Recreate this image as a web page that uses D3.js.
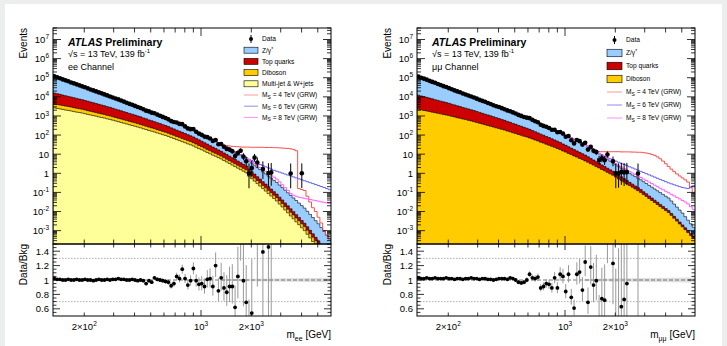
<!DOCTYPE html>
<html>
<head>
<meta charset="utf-8">
<script src="https://cdn.jsdelivr.net/npm/d3@7"></script>
<style>
  body { margin: 0; background: #eceeee; }
  svg { display: block; font-family: "Liberation Sans", Arial, sans-serif; }
</style>
</head>
<body>
<svg id="chart" width="727" height="346"></svg>
<script>
// binning: log-uniform bins in dilepton mass [GeV]
const massMin = 130, massMax = 6000, nBins = 100;
const binEdges = d3.range(nBins + 1).map(i => massMin * Math.pow(massMax / massMin, i / nBins));

// --- ee channel, log10(events per bin) ---
const eeDYLog = [5.01,4.95,4.90,4.84,4.79,4.73,4.67,4.62,4.56,4.51,
  4.45,4.40,4.34,4.28,4.23,4.17,4.11,4.06,4.00,3.94,
  3.88,3.82,3.77,3.71,3.65,3.59,3.53,3.47,3.41,3.35,
  3.29,3.23,3.17,3.11,3.05,2.99,2.92,2.86,2.80,2.74,
  2.68,2.61,2.54,2.47,2.40,2.34,2.27,2.20,2.13,2.06,
  1.99,1.92,1.85,1.78,1.71,1.64,1.56,1.49,1.42,1.35,
  1.28,1.20,1.12,1.05,0.97,0.89,0.81,0.73,0.66,0.58,
  0.45,0.35,0.24,0.14,0.03,-0.08,-0.18,-0.29,-0.39,-0.50,
  -0.60,-0.73,-0.86,-0.99,-1.12,-1.25,-1.38,-1.51,-1.64,-1.77,
  -1.90,-2.06,-2.22,-2.38,-2.54,-2.70,-2.90,-3.10,-3.30,-3.50];
const eeTopLog = [4.06,4.03,3.99,3.95,3.91,3.87,3.84,3.80,3.76,3.72,
  3.69,3.64,3.60,3.56,3.52,3.47,3.43,3.39,3.35,3.30,
  3.26,3.21,3.16,3.12,3.07,3.02,2.97,2.92,2.88,2.83,
  2.78,2.73,2.67,2.62,2.56,2.51,2.46,2.40,2.35,2.29,
  2.24,2.18,2.11,2.05,1.98,1.92,1.86,1.79,1.73,1.66,
  1.60,1.52,1.44,1.36,1.28,1.20,1.11,1.03,0.95,0.87,
  0.79,0.70,0.61,0.51,0.42,0.33,0.24,0.15,0.05,-0.04,
  -0.20,-0.34,-0.47,-0.61,-0.74,-0.88,-1.01,-1.15,-1.28,-1.42,
  -1.55,-1.71,-1.86,-2.02,-2.17,-2.33,-2.48,-2.64,-2.79,-2.95,
  -3.10,-3.28,-3.46,-3.64,-3.82,-4.00,-4.18,-4.36,-4.54,-4.72];
const eeDibosonLog = [3.21,3.18,3.15,3.12,3.10,3.07,3.04,3.01,2.98,2.95,
  2.92,2.88,2.84,2.80,2.76,2.72,2.68,2.65,2.61,2.57,
  2.53,2.49,2.45,2.41,2.37,2.33,2.29,2.25,2.21,2.17,
  2.13,2.08,2.04,1.99,1.94,1.90,1.85,1.80,1.75,1.71,
  1.66,1.61,1.55,1.50,1.44,1.39,1.33,1.28,1.22,1.17,
  1.11,1.04,0.96,0.89,0.81,0.74,0.67,0.59,0.52,0.44,
  0.37,0.29,0.21,0.13,0.05,-0.03,-0.11,-0.19,-0.27,-0.35,
  -0.50,-0.63,-0.75,-0.88,-1.00,-1.13,-1.25,-1.38,-1.50,-1.63,
  -1.75,-1.90,-2.04,-2.19,-2.33,-2.48,-2.62,-2.77,-2.91,-3.06,
  -3.20,-3.38,-3.56,-3.74,-3.92,-4.10,-4.28,-4.46,-4.64,-4.82];
const eeMultijetLog = [3.42,3.39,3.37,3.34,3.31,3.29,3.26,3.23,3.20,3.18,
  3.15,3.12,3.08,3.05,3.02,2.99,2.95,2.92,2.89,2.85,
  2.82,2.78,2.74,2.70,2.66,2.62,2.58,2.54,2.50,2.46,
  2.42,2.38,2.33,2.29,2.24,2.20,2.16,2.11,2.07,2.02,
  1.98,1.93,1.87,1.82,1.76,1.71,1.65,1.60,1.54,1.49,
  1.43,1.36,1.29,1.23,1.16,1.09,1.02,0.95,0.89,0.82,
  0.75,0.67,0.59,0.51,0.43,0.35,0.27,0.19,0.11,0.03,
  -0.15,-0.28,-0.41,-0.54,-0.67,-0.80,-0.93,-1.06,-1.19,-1.32,
  -1.45,-1.61,-1.76,-1.92,-2.07,-2.23,-2.38,-2.54,-2.69,-2.85,
  -3.00,-3.19,-3.38,-3.57,-3.76,-3.95,-4.14,-4.33,-4.52,-4.71];
// signal + background predictions, bins 60..99
const sigFirstBin = 60;
const eeSig4Log = [1.52,1.48,1.45,1.43,1.41,1.40,1.39,1.38,1.37,1.37,
  1.37,1.36,1.36,1.36,1.36,1.36,1.35,1.35,1.35,1.34,
  1.34,1.33,1.32,1.31,1.30,1.28,1.25,1.18,-0.80,-0.85,
  -0.90,-1.20,-1.50,-1.80,-2.00,-2.30,-2.60,-3.00,-3.40,-3.80];
const eeSig6Log = [1.52,1.45,1.38,1.30,1.22,1.14,1.06,0.98,0.90,0.82,
  0.74,0.67,0.60,0.53,0.46,0.40,0.34,0.28,0.22,0.16,
  0.11,0.06,0.01,-0.04,-0.09,-0.14,-0.19,-0.24,-0.29,-0.34,
  -0.39,-0.44,-0.49,-0.54,-0.59,-0.64,-0.69,-0.74,-0.80,-0.86];
const eeSig8Log = [1.52,1.44,1.36,1.28,1.20,1.12,1.04,0.96,0.88,0.80,
  0.70,0.60,0.50,0.40,0.30,0.20,0.10,0.00,-0.10,-0.20,
  -0.30,-0.45,-0.60,-0.75,-0.90,-1.05,-1.15,-1.20,-1.25,-1.28,
  -1.31,-1.34,-1.37,-1.40,-1.43,-1.46,-1.49,-1.52,-1.55,-1.58];
// relative background uncertainty shown in the ratio, bins 60..99
const eeSystRel = [0.012,0.013,0.012,0.014,0.013,0.015,0.014,0.016,0.015,0.017,
  0.016,0.018,0.017,0.019,0.018,0.020,0.019,0.021,0.020,0.022,
  0.021,0.023,0.022,0.024,0.023,0.025,0.024,0.026,0.025,0.027,
  0.026,0.028,0.027,0.029,0.028,0.030,0.029,0.031,0.030,0.032];
// data / total background (null = no events)
const eeRatio = [1.02,1.01,1.01,1.00,1.00,1.01,1.00,1.00,1.01,1.00,
  1.00,1.01,1.00,1.00,0.99,1.00,1.01,1.00,1.00,1.01,
  1.00,1.01,1.01,1.02,1.01,1.01,1.00,1.00,1.01,1.00,
  0.99,1.00,0.99,0.95,0.99,0.97,1.03,1.01,1.00,0.99,
  0.98,0.97,0.92,0.95,1.05,1.02,1.15,1.02,0.93,0.99,
  1.16,0.99,0.94,0.95,0.91,1.01,1.02,0.91,1.20,0.85,
  1.03,0.89,0.83,0.91,0.91,0.62,1.05,1.70,0.99,0.69,
  0.22,0.54,2.5,1.8,null,1.39,null,1.46,2.0,null,
  null,null,null,null,null,14,null,null,null,49,
  null,null,null,null,null,null,null,null,null,null];

// --- mumu channel ---
const mmDYLog = [5.00,4.94,4.89,4.83,4.77,4.71,4.66,4.60,4.54,4.48,
  4.43,4.37,4.31,4.25,4.19,4.14,4.08,4.02,3.96,3.90,
  3.85,3.79,3.73,3.67,3.62,3.56,3.50,3.44,3.38,3.33,
  3.27,3.21,3.15,3.10,3.04,2.99,2.93,2.88,2.82,2.77,
  2.71,2.64,2.57,2.51,2.44,2.37,2.31,2.24,2.17,2.11,
  2.04,1.97,1.90,1.83,1.77,1.70,1.63,1.56,1.49,1.42,
  1.36,1.26,1.16,1.05,0.95,0.85,0.75,0.65,0.55,0.45,
  0.35,0.26,0.17,0.08,-0.01,-0.10,-0.18,-0.26,-0.34,-0.42,
  -0.50,-0.59,-0.68,-0.77,-0.86,-0.95,-1.04,-1.13,-1.22,-1.31,
  -1.40,-1.56,-1.72,-1.88,-2.04,-2.20,-2.40,-2.60,-2.80,-3.00];
const mmTopLog = [4.00,3.96,3.92,3.88,3.84,3.80,3.75,3.71,3.67,3.63,
  3.59,3.55,3.50,3.46,3.41,3.37,3.32,3.28,3.24,3.19,
  3.15,3.10,3.05,3.00,2.95,2.91,2.86,2.81,2.76,2.71,
  2.66,2.61,2.55,2.50,2.44,2.39,2.33,2.28,2.22,2.17,
  2.11,2.04,1.98,1.91,1.84,1.78,1.71,1.65,1.58,1.51,
  1.45,1.37,1.29,1.21,1.13,1.05,0.97,0.89,0.81,0.73,
  0.65,0.55,0.45,0.35,0.26,0.16,0.06,-0.04,-0.14,-0.23,
  -0.33,-0.44,-0.54,-0.65,-0.75,-0.86,-0.97,-1.07,-1.18,-1.28,
  -1.39,-1.52,-1.64,-1.77,-1.89,-2.02,-2.14,-2.27,-2.39,-2.52,
  -2.64,-2.79,-2.94,-3.09,-3.24,-3.40,-3.55,-3.70,-3.85,-4.00];
const mmDibosonLog = [3.35,3.32,3.29,3.26,3.23,3.20,3.17,3.14,3.11,3.08,
  3.05,3.02,2.98,2.95,2.91,2.88,2.84,2.81,2.77,2.74,
  2.70,2.66,2.62,2.58,2.54,2.50,2.46,2.42,2.38,2.34,
  2.30,2.26,2.21,2.17,2.12,2.08,2.03,1.99,1.94,1.90,
  1.85,1.80,1.74,1.69,1.63,1.58,1.52,1.47,1.41,1.36,
  1.30,1.24,1.17,1.11,1.04,0.98,0.91,0.85,0.78,0.72,
  0.65,0.58,0.50,0.43,0.35,0.28,0.20,0.13,0.05,-0.03,
  -0.10,-0.19,-0.28,-0.37,-0.46,-0.55,-0.64,-0.73,-0.82,-0.91,
  -1.00,-1.11,-1.21,-1.32,-1.42,-1.53,-1.63,-1.74,-1.84,-1.95,
  -2.05,-2.20,-2.35,-2.50,-2.65,-2.80,-2.95,-3.10,-3.25,-3.40];
const mmSig4Log = [1.50,1.42,1.34,1.26,1.18,1.14,1.13,1.13,1.13,1.13,
  1.13,1.13,1.13,1.12,1.12,1.12,1.12,1.11,1.11,1.10,
  1.10,1.08,1.06,1.03,0.99,0.94,0.86,0.76,0.64,0.50,
  0.36,0.22,0.09,-0.03,-0.14,-0.24,-0.34,-0.46,-0.75,-1.05];
const mmSig6Log = [1.50,1.41,1.32,1.23,1.14,1.05,0.97,0.89,0.82,0.76,
  0.70,0.64,0.58,0.52,0.46,0.40,0.34,0.28,0.22,0.16,
  0.10,0.04,-0.02,-0.08,-0.14,-0.20,-0.26,-0.32,-0.38,-0.44,
  -0.50,-0.55,-0.60,-0.65,-0.70,-0.74,-0.77,-0.80,-0.72,-0.65];
const mmSig8Log = [1.50,1.41,1.32,1.23,1.14,1.04,0.95,0.86,0.77,0.68,
  0.59,0.50,0.42,0.34,0.26,0.18,0.10,0.02,-0.06,-0.14,
  -0.22,-0.30,-0.38,-0.46,-0.54,-0.62,-0.70,-0.78,-0.86,-0.94,
  -1.02,-1.10,-1.18,-1.26,-1.34,-1.42,-1.50,-1.60,-1.75,-1.90];
const mmSystRel = [0.016,0.017,0.016,0.018,0.017,0.019,0.018,0.020,0.019,0.021,
  0.020,0.022,0.021,0.023,0.022,0.024,0.023,0.025,0.024,0.026,
  0.025,0.027,0.026,0.028,0.027,0.029,0.028,0.030,0.029,0.031,
  0.030,0.032,0.031,0.033,0.032,0.034,0.033,0.035,0.034,0.036];
const mmRatio = [1.03,1.02,1.02,1.03,1.02,1.02,1.03,1.02,1.02,1.02,
  1.03,1.02,1.02,1.01,1.02,1.02,1.01,1.02,1.02,1.03,
  1.02,1.02,1.01,1.02,1.02,1.01,1.01,1.00,1.01,1.02,
  1.02,1.02,1.01,1.03,1.02,1.00,0.97,0.96,0.97,1.00,
  1.08,1.03,1.02,1.04,0.89,0.91,0.95,0.94,0.89,1.03,
  0.89,1.08,1.05,0.84,1.08,0.76,0.61,1.08,1.11,0.86,
  1.25,0.69,1.18,0.93,0.99,0.47,0.74,0.72,1.8,null,
  1.23,0.35,0.44,0.63,0.73,0.95,null,null,null,1.75,
  null,null,null,null,null,null,null,null,null,null,
  null,null,null,null,null,null,null,null,null,null];

const legendBkgEE = ["Z/γ*", "Top quarks", "Diboson", "Multi-jet & W+jets"];
const legendBkgMM = ["Z/γ*", "Top quarks", "Diboson"];
const signalMasses = ["4", "6", "8"];
const xTickLabels = [[200, "2×10", "2"], [1000, "10", "3"], [2000, "2×10", "3"]];

const colors = { dy: "#99ccff", top: "#cc0000", diboson: "#ffcc00", multijet: "#ffff99" };
const sigColors = ["#ff4d4d", "#6363ee", "#ff5cff"];
const legendSigColors = ["#ff9a9a", "#8f8fee", "#ff8cff"];

const svg = d3.select("#chart");
svg.append("rect").attr("x", 5).attr("y", 4).attr("width", 717).attr("height", 342).attr("fill", "#fff");

const W = 278, yTop = 28, yMid = 244, yBot = 316;
const yMain = d3.scaleLog().domain([2e-4, 4e7]).range([yMid, yTop]);
const yRat = d3.scaleLinear().domain([0.5, 1.5]).range([yBot, yMid]);

function supText(sel, base, sup, supSize) {
  sel.text(base);
  sel.append("tspan").attr("dy", -supSize * 0.6).attr("font-size", supSize).text(sup);
}

// Poisson 68% interval (Wilson-Hilferty approximation)
function poissonLow(n) { if (n <= 0) return 0; return n * Math.pow(1 - 1 / (9 * n) - 1 / (3 * Math.sqrt(n)), 3); }
function poissonUp(n) { const m = n + 1; return m * Math.pow(1 - 1 / (9 * m) + 1 / (3 * Math.sqrt(m)), 3); }

function drawPanel(p, id) {
  const x0 = p.x0, x1 = p.x0 + W;
  const x = d3.scaleLog().domain([massMin, massMax]).range([x0, x1]);
  const g = svg.append("g");

  g.append("clipPath").attr("id", "cm" + id).append("rect").attr("x", x0).attr("y", yTop).attr("width", W).attr("height", yMid - yTop);
  g.append("clipPath").attr("id", "cr" + id).append("rect").attr("x", x0).attr("y", yMid).attr("width", W).attr("height", yBot - yMid);

  // stack (bottom layer first in list)
  const comps = p.bkg.map(b => b.log.map(v => Math.pow(10, v)));
  const cum = [];
  let run = new Array(nBins).fill(0);
  comps.forEach(c => { run = run.map((v, i) => v + c[i]); cum.push(run); });
  const total = cum[cum.length - 1];

  const yc = v => Math.min(yMid + 2, yMain(Math.max(v, 1e-9)));
  function stepPath(vals) {
    let d = "M" + x(binEdges[0]) + "," + yc(vals[0]);
    vals.forEach((v, i) => { d += "L" + x(binEdges[i]) + "," + yc(v) + "L" + x(binEdges[i + 1]) + "," + yc(v); });
    return d;
  }
  const main = g.append("g").attr("clip-path", "url(#cm" + id + ")");
  for (let k = cum.length - 1; k >= 0; k--) {
    const d = "M" + x0 + "," + (yMid + 2) + stepPath(cum[k]).replace(/^M/, "L") + "L" + x1 + "," + (yMid + 2) + "Z";
    main.append("path").attr("d", d).attr("fill", p.bkg[k].color).attr("stroke", "#000").attr("stroke-width", 0.6);
  }

  // signal hypotheses (background + signal)
  p.sig.forEach((s, j) => {
    const vals = total.map((t, i) => i < sigFirstBin ? t : Math.max(t, Math.pow(10, s[i - sigFirstBin])));
    main.append("path").attr("d", stepPath(vals)).attr("fill", "none").attr("stroke", sigColors[j]).attr("stroke-width", 1);
  });

  // data
  const pts = [];
  p.ratio.forEach((r, i) => {
    if (r === null) return;
    const n = r * total[i];
    pts.push({ m: Math.sqrt(binEdges[i] * binEdges[i + 1]), n, lo: poissonLow(n), hi: poissonUp(n), b: total[i], r });
  });
  main.selectAll(".eb").data(pts).enter().append("line")
    .attr("x1", d => x(d.m)).attr("x2", d => x(d.m))
    .attr("y1", d => yc(d.lo)).attr("y2", d => yMain(d.hi))
    .attr("stroke", "#000").attr("stroke-width", 1);
  main.selectAll(".dp").data(pts).enter().append("circle")
    .attr("cx", d => x(d.m)).attr("cy", d => yMain(d.n)).attr("r", 2.3).attr("fill", "#000");

  // ratio panel
  const rat = g.append("g").attr("clip-path", "url(#cr" + id + ")");
  p.syst.forEach((u, j) => {
    const i = sigFirstBin + j;
    rat.append("rect").attr("x", x(binEdges[i])).attr("width", x(binEdges[i + 1]) - x(binEdges[i]) + 0.3)
      .attr("y", yRat(1 + u)).attr("height", yRat(1 - u) - yRat(1 + u)).attr("fill", "#dedede");
  });
  [[1.3, "#999", "1.5,1.5"], [0.7, "#999", "1.5,1.5"], [1.0, "#555", "4,2"]].forEach(([v, c, da]) => {
    rat.append("line").attr("x1", x0).attr("x2", x1).attr("y1", yRat(v)).attr("y2", yRat(v))
      .attr("stroke", c).attr("stroke-width", 0.8).attr("stroke-dasharray", da);
  });
  rat.selectAll(".re").data(pts).enter().append("line")
    .attr("x1", d => x(d.m)).attr("x2", d => x(d.m))
    .attr("y1", d => yRat(d.lo / d.b)).attr("y2", d => yRat(d.hi / d.b))
    .attr("stroke", "#999").attr("stroke-width", 1);
  rat.selectAll(".rp").data(pts).enter().append("circle")
    .attr("cx", d => x(d.m)).attr("cy", d => yRat(d.r)).attr("r", 1.9).attr("fill", "#000");

  // frames
  g.append("rect").attr("x", x0).attr("y", yTop).attr("width", W).attr("height", yMid - yTop).attr("fill", "none").attr("stroke", "#000").attr("stroke-width", 1);
  g.append("rect").attr("x", x0).attr("y", yMid).attr("width", W).attr("height", yBot - yMid).attr("fill", "none").attr("stroke", "#000").attr("stroke-width", 1);

  const ax = g.append("g").attr("stroke", "#000").attr("stroke-width", 0.8);
  // y ticks main (log)
  for (let n = -4; n <= 7; n++) for (let k = 1; k <= 9; k++) {
    const v = k * Math.pow(10, n);
    if (v < 2e-4 || v > 4e7) continue;
    const yy = yMain(v), len = k === 1 ? 8 : 4;
    ax.append("line").attr("x1", x0).attr("x2", x0 + len).attr("y1", yy).attr("y2", yy);
    ax.append("line").attr("x1", x1).attr("x2", x1 - len).attr("y1", yy).attr("y2", yy);
    if (k === 1 && n >= -3) {
      const t = g.append("text").attr("x", x0 - 4).attr("y", yy + 3.5).attr("text-anchor", "end").attr("font-size", 9.5);
      if (n === 0) t.text("1"); else if (n === 1) t.text("10"); else supText(t, "10", String(n), 6.5);
    }
  }
  // ratio y ticks
  for (let v = 0.55; v < 1.5; v += 0.05) {
    const major = Math.abs(Math.round(v * 10) - v * 10) < 1e-6 && Math.round(v * 10) % 2 === 0;
    const yy = yRat(v), len = major ? 7 : 3.5;
    ax.append("line").attr("x1", x0).attr("x2", x0 + len).attr("y1", yy).attr("y2", yy);
    ax.append("line").attr("x1", x1).attr("x2", x1 - len).attr("y1", yy).attr("y2", yy);
    if (major) g.append("text").attr("x", x0 - 4).attr("y", yy + 3.5).attr("text-anchor", "end").attr("font-size", 9.5)
      .text(d3.format("~g")(+v.toFixed(1)));
  }
  // x ticks
  for (let n = 2; n <= 3; n++) for (let k = 1; k <= 9; k++) {
    const v = k * Math.pow(10, n);
    if (v <= massMin || v >= massMax) continue;
    const xx = x(v), major = k === 1;
    const lm = major ? 8 : 4.5, lr = major ? 6 : 3.5;
    ax.append("line").attr("x1", xx).attr("x2", xx).attr("y1", yTop).attr("y2", yTop + lm);
    ax.append("line").attr("x1", xx).attr("x2", xx).attr("y1", yMid).attr("y2", yMid - lm);
    ax.append("line").attr("x1", xx).attr("x2", xx).attr("y1", yMid).attr("y2", yMid + lr);
    ax.append("line").attr("x1", xx).attr("x2", xx).attr("y1", yBot).attr("y2", yBot - lr);
  }
  xTickLabels.forEach(([v, base, sup]) => {
    const t = g.append("text").attr("x", x(v)).attr("y", 330).attr("text-anchor", "middle").attr("font-size", 9.5);
    supText(t, base, sup, 6.5);
  });

  // axis titles
  g.append("text").attr("transform", `translate(${x0 - 26},${yTop}) rotate(-90)`).attr("text-anchor", "end").attr("font-size", 10).text("Events");
  g.append("text").attr("transform", `translate(${x0 - 26},${yMid}) rotate(-90)`).attr("text-anchor", "end").attr("font-size", 10).text("Data/Bkg");
  const xt = g.append("text").attr("x", x1).attr("y", 338).attr("text-anchor", "end").attr("font-size", 10).text("m");
  xt.append("tspan").attr("dy", 2.5).attr("font-size", 7).text(p.sub);
  xt.append("tspan").attr("dy", -2.5).text(" [GeV]");

  // ATLAS label
  const lab = g.append("text").attr("x", x0 + 15).attr("y", 46).attr("font-size", 10.5).attr("font-weight", "bold");
  lab.append("tspan").attr("font-style", "italic").text("ATLAS");
  lab.append("tspan").text(" Preliminary");
  const en = g.append("text").attr("x", x0 + 15).attr("y", 57).attr("font-size", 9);
  supText(en, "√s = 13 TeV, 139 fb", "-1", 6);
  g.append("text").attr("x", x0 + 15).attr("y", 70).attr("font-size", 9).text(p.channel);

  // legend
  const L = p.legend;
  const leg = g.append("g").attr("font-size", 6.6);
  let row = 0;
  const ry = () => L.y0 + row * L.dy;
  leg.append("line").attr("x1", L.x + L.w / 2).attr("x2", L.x + L.w / 2).attr("y1", ry() - 4).attr("y2", ry() + 4).attr("stroke", "#000");
  leg.append("circle").attr("cx", L.x + L.w / 2).attr("cy", ry()).attr("r", 2).attr("fill", "#000");
  leg.append("text").attr("x", L.tx).attr("y", ry() + 2.3).text("Data");
  row++;
  for (let k = p.bkg.length - 1; k >= 0; k--) {
    leg.append("rect").attr("x", L.x).attr("y", ry() - L.h / 2).attr("width", L.w).attr("height", L.h)
      .attr("fill", p.bkg[k].color).attr("stroke", "#000").attr("stroke-width", 0.6);
    const t = leg.append("text").attr("x", L.tx).attr("y", ry() + 2.3);
    if (p.bkg[k].name === "Z/γ*") { t.text("Z/γ"); t.append("tspan").attr("dy", -2).attr("font-size", 5).text("*"); }
    else t.text(p.bkg[k].name);
    row++;
  }
  signalMasses.forEach((ms, j) => {
    leg.append("line").attr("x1", L.x).attr("x2", L.x + L.w).attr("y1", ry()).attr("y2", ry()).attr("stroke", legendSigColors[j]).attr("stroke-width", 1);
    const t = leg.append("text").attr("x", L.tx).attr("y", ry() + 2.3).text("M");
    t.append("tspan").attr("dy", 1.5).attr("font-size", 5).text("S");
    t.append("tspan").attr("dy", -1.5).text(` = ${ms} TeV (GRW)`);
    row++;
  });
}

drawPanel({
  x0: 53, channel: "ee Channel", sub: "ee",
  bkg: [
    { name: legendBkgEE[3], color: colors.multijet, log: eeMultijetLog },
    { name: legendBkgEE[2], color: colors.diboson, log: eeDibosonLog },
    { name: legendBkgEE[1], color: colors.top, log: eeTopLog },
    { name: legendBkgEE[0], color: colors.dy, log: eeDYLog }
  ],
  sig: [eeSig4Log, eeSig6Log, eeSig8Log], ratio: eeRatio, syst: eeSystRel,
  legend: { x: 244, w: 14, h: 6, tx: 262, y0: 39, dy: 11.2 }
}, "ee");

drawPanel({
  x0: 417, channel: "μμ Channel", sub: "μμ",
  bkg: [
    { name: legendBkgMM[2], color: colors.diboson, log: mmDibosonLog },
    { name: legendBkgMM[1], color: colors.top, log: mmTopLog },
    { name: legendBkgMM[0], color: colors.dy, log: mmDYLog }
  ],
  sig: [mmSig4Log, mmSig6Log, mmSig8Log], ratio: mmRatio, syst: mmSystRel,
  legend: { x: 607, w: 15, h: 7.5, tx: 626, y0: 40, dy: 13 }
}, "mm");
</script>
</body>
</html>
